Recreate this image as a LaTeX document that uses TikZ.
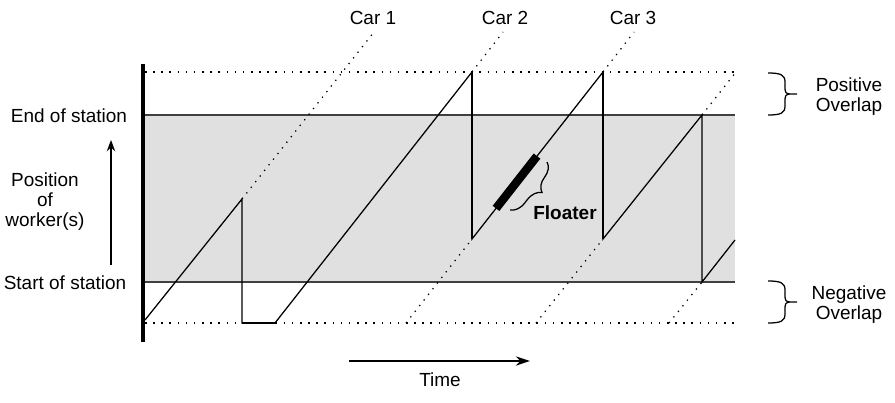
\documentclass[tikz,border=0pt]{standalone}
\usepackage{fontspec}
\setmainfont{Liberation Sans}
\usetikzlibrary{arrows.meta,decorations.pathreplacing}

\begin{document}
\begin{tikzpicture}[x=0.025cm,y=0.025cm,
  lbl/.style={font=\fontsize{13.5}{14.2}\selectfont,align=center,inner sep=0pt},
  carline/.style={line width=0.9pt,dash pattern=on 0.9pt off 4.2pt},
  overlapline/.style={line width=0.75pt,dash pattern=on 1.1pt off 4.7pt},
  stationline/.style={line width=1.8pt,draw=black!75},
  workline/.style={line width=0.9pt},
  axisarr/.style={-{Stealth[length=8pt,width=6pt]},line width=1.1pt},
  ovbrace/.pic={
    \draw[line width=0.9pt] (0,0) .. controls (13,0) and (17,-2) .. (17,-9) -- (17,-15)
      .. controls (17,-19) and (18,-21) .. (22,-21) .. controls (18,-21) and (17,-23) .. (17,-27)
      -- (17,-33) .. controls (17,-40) and (13,-42) .. (0,-42) (22,-21) -- (29,-21);}
]
  \useasboundingbox (0,0) rectangle (895,402);
  % station band
  \fill[black!12] (145,120) rectangle (735,287);
  \draw[stationline] (145,287) -- (735,287);
  \draw[stationline] (145,120) -- (735,120);
  % overlap limits
  \draw[overlapline] (145,330) -- (735,330);
  \draw[overlapline] (145,79) -- (735,79);
  % car paths
  \draw[carline] (242,203) -- (374,370);
  \draw[carline] (472,330) -- (503,370);
  \draw[carline] (406,79) -- (472,163);
  \draw[carline] (603,330) -- (634,370);
  \draw[carline] (536,79) -- (603,163);
  \draw[carline] (702,287) -- (736,330);
  \draw[carline] (669,79) -- (702,120);
  % worker path
  \draw[workline] (145,82) -- (242,203) -- (242,79) -- (275,79) -- (472,330) -- (472,163)
    -- (603,330) -- (603,163) -- (702,287) -- (702,120) -- (735,162);
  \draw[line width=1.3pt] (472,330) -- (472,163) (603,330) -- (603,163);
  \draw[line width=2pt] (242,79) -- (275,79);
  % position axis
  \draw[line width=2.8pt] (143,338) -- (143,60);
  % floater
  \draw[line width=6pt] (496,193.6) -- (537,245.9);
  \draw[decorate,decoration={brace,amplitude=10.5pt,aspect=0.45},line width=0.9pt]
    (547,240) -- (510,192);
  \node[lbl,font=\fontsize{13.5}{14.2}\selectfont\bfseries] (floater) at (565,189) {Floater};
  % car labels
  \node[lbl] (car1) at (373,384) {Car 1};
  \node[lbl] (car2) at (505,384) {Car 2};
  \node[lbl] (car3) at (633,384) {Car 3};
  % station labels
  \node[lbl] (endst) at (69,286) {End of station};
  \node[lbl] (startst) at (65,119) {Start of station};
  \node[lbl] (pos) at (45,200) {Position\\of\\worker(s)};
  \coordinate (posa) at (111,137);
  \coordinate (posb) at (111,262);
  \draw[axisarr] (posa) -- (posb);
  % time axis
  \coordinate (ta) at (349,41);
  \coordinate (tb) at (530,41);
  \draw[-{Stealth[length=10pt,width=6.5pt]},line width=1.1pt] (ta) -- (tb);
  \node[lbl] (time) at (440,22) {Time};
  % overlap braces
  \pic at (768,329) {ovbrace};
  \pic at (768,121) {ovbrace};
  \node[lbl] (posov) at (849,305) {Positive\\Overlap};
  \node[lbl] (negov) at (849,97) {Negative\\Overlap};
\end{tikzpicture}
\end{document}
